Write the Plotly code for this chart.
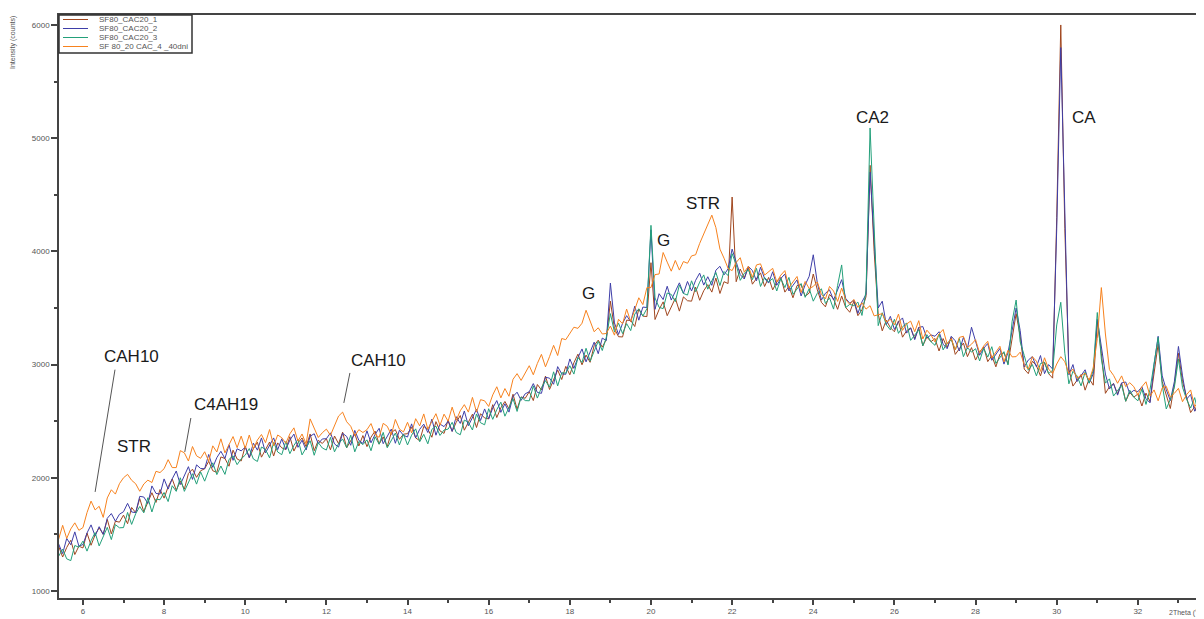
import plotly.graph_objects as go

# ---------------- data ----------------
series_names = ["SF80_CAC20_1", "SF80_CAC20_2", "SF80_CAC20_3", "SF 80_20 CAC_4 _40dni"]

scan_start = 5.4   # 2Theta of first sample
scan_step = 0.1    # 2Theta step between samples

sf80_cac20_1 = [
    1396, 1300, 1384, 1448, 1322, 1396,
    1380, 1512, 1404, 1496, 1558, 1500, 1632, 1504, 1616, 1608,
    1670, 1594, 1738, 1692, 1816, 1700, 1784, 1868, 1782, 1896,
    1820, 1920, 1990, 1890, 1970, 1900, 2038, 2076, 2004, 2062,
    2080, 2146, 2062, 2048, 2184, 2170, 2102, 2244, 2166, 2148,
    2280, 2178, 2256, 2314, 2182, 2250, 2316, 2192, 2308, 2264,
    2250, 2363, 2236, 2309, 2352, 2275, 2387, 2239, 2331, 2303,
    2345, 2247, 2369, 2301, 2403, 2265, 2327, 2389, 2281, 2373,
    2275, 2359, 2413, 2297, 2361, 2275, 2400, 2425, 2340, 2385,
    2390, 2446, 2352, 2328, 2454, 2430, 2358, 2496, 2414, 2392,
    2510, 2410, 2490, 2550, 2420, 2490, 2562, 2444, 2566, 2528,
    2520, 2646, 2532, 2618, 2674, 2610, 2738, 2606, 2714, 2702,
    2760, 2682, 2824, 2776, 2898, 2780, 2866, 2952, 2868, 2984,
    2910, 3016, 3092, 2998, 3084, 3020, 3168, 3216, 3154, 3222,
    3560, 3318, 3246, 3244, 3392, 3390, 3336, 3492, 3428, 3424,
    3900, 3398, 3486, 3554, 3432, 3510, 3586, 3472, 3598, 3564,
    3560, 3684, 3568, 3652, 3706, 3640, 3764, 3628, 3732, 3716,
    4480, 3732, 3844, 3766, 3858, 3710, 3760, 3810, 3690, 3770,
    3660, 3730, 3770, 3640, 3690, 3590, 3698, 3706, 3604, 3632,
    3800, 3660, 3550, 3510, 3620, 3580, 3488, 3606, 3504, 3462,
    3560, 3432, 3484, 3600, 4760, 4000, 3444, 3298, 3392, 3326,
    3290, 3386, 3242, 3298, 3324, 3230, 3328, 3166, 3244, 3202,
    3230, 3120, 3230, 3150, 3240, 3090, 3140, 3190, 3070, 3150,
    3040, 3112, 3154, 3026, 3078, 2980, 3092, 3104, 3006, 3250,
    3450, 3250, 2960, 2920, 3030, 2990, 2900, 3020, 2920, 2880,
    4300, 6000, 4200, 2960, 2810, 2860, 2912, 2774, 2876, 2818,
    3380, 3100, 2746, 2804, 2832, 2740, 2838, 2676, 2754, 2712,
    2740, 2634, 2748, 2672, 2950, 3180, 2850, 2728, 2612, 2820,
    3100, 2850, 2704, 2576, 2628, 2530, 2642,
]

sf80_cac20_2 = [
    1416, 1330, 1464, 1408, 1522, 1396,
    1410, 1512, 1584, 1486, 1568, 1500, 1642, 1684, 1616, 1678,
    1700, 1774, 1698, 1692, 1836, 1830, 1774, 1928, 1862, 1856,
    1990, 1900, 1990, 2060, 1940, 2020, 2098, 1986, 2114, 2082,
    2080, 2206, 2092, 2178, 2234, 2170, 2292, 2154, 2256, 2238,
    2270, 2178, 2306, 2244, 2352, 2220, 2286, 2352, 2248, 2344,
    2250, 2333, 2386, 2269, 2332, 2245, 2367, 2389, 2301, 2343,
    2345, 2397, 2299, 2271, 2393, 2365, 2287, 2419, 2331, 2303,
    2415, 2309, 2383, 2437, 2301, 2365, 2430, 2305, 2420, 2375,
    2360, 2476, 2352, 2428, 2474, 2400, 2518, 2376, 2474, 2452,
    2500, 2410, 2540, 2480, 2590, 2460, 2532, 2604, 2506, 2608,
    2520, 2616, 2682, 2578, 2654, 2580, 2718, 2756, 2684, 2742,
    2760, 2832, 2754, 2746, 2888, 2880, 2826, 2982, 2918, 2914,
    3050, 2966, 3062, 3138, 3024, 3110, 3198, 3096, 3234, 3212,
    3720, 3368, 3266, 3364, 3432, 3380, 3516, 3392, 3508, 3504,
    4190, 3488, 3626, 3574, 3692, 3570, 3646, 3722, 3628, 3734,
    3650, 3744, 3808, 3702, 3776, 3700, 3834, 3868, 3792, 3846,
    4020, 3902, 3794, 3756, 3868, 3830, 3740, 3860, 3760, 3720,
    3820, 3700, 3760, 3800, 3650, 3700, 3748, 3606, 3704, 3780,
    3970, 3720, 3570, 3630, 3660, 3570, 3668, 3750, 3584, 3542,
    3570, 3452, 3554, 3620, 4700, 4050, 3500, 3560, 3352, 3426,
    3310, 3376, 3412, 3278, 3324, 3220, 3328, 3336, 3234, 3262,
    3250, 3290, 3180, 3140, 3250, 3210, 3120, 3240, 3140, 3330,
    3200, 3082, 3144, 3186, 3038, 3090, 3142, 3004, 3106, 3300,
    3500, 3300, 2980, 3040, 3070, 2980, 3080, 2920, 3000, 2960,
    4200, 5800, 4300, 2910, 3000, 2850, 2902, 2954, 2836, 2918,
    3400, 3150, 2916, 2784, 2832, 2730, 2838, 2846, 2744, 2772,
    2760, 2804, 2698, 2662, 3000, 3250, 2900, 2778, 2682, 2850,
    3160, 2900, 2694, 2736, 2588, 2640, 2692,
]

sf80_cac20_3 = [
    1306, 1370, 1284, 1268, 1402, 1386,
    1440, 1352, 1444, 1516, 1398, 1480, 1562, 1454, 1586, 1558,
    1560, 1694, 1588, 1682, 1746, 1690, 1824, 1698, 1812, 1806,
    1870, 1790, 1930, 1880, 2000, 1880, 1958, 2036, 1944, 2052,
    1970, 2066, 2132, 2028, 2104, 2030, 2162, 2194, 2116, 2168,
    2200, 2258, 2166, 2144, 2272, 2250, 2176, 2312, 2228, 2204,
    2320, 2213, 2286, 2339, 2202, 2265, 2327, 2199, 2311, 2263,
    2245, 2357, 2229, 2301, 2343, 2265, 2377, 2229, 2321, 2293,
    2335, 2239, 2363, 2297, 2401, 2265, 2330, 2395, 2290, 2385,
    2290, 2376, 2432, 2318, 2384, 2300, 2428, 2456, 2374, 2422,
    2430, 2490, 2400, 2380, 2510, 2490, 2422, 2564, 2486, 2468,
    2610, 2516, 2602, 2668, 2544, 2620, 2698, 2586, 2714, 2682,
    2680, 2812, 2704, 2796, 2858, 2800, 2936, 2812, 2928, 2924,
    2990, 2916, 3062, 3018, 3144, 3030, 3118, 3206, 3124, 3242,
    3450, 3288, 3366, 3274, 3362, 3300, 3446, 3492, 3428, 3494,
    4230, 3588, 3506, 3494, 3632, 3620, 3556, 3702, 3628, 3614,
    3740, 3644, 3728, 3792, 3666, 3740, 3814, 3698, 3822, 3786,
    3980, 3882, 3744, 3806, 3838, 3750, 3850, 3690, 3770, 3730,
    3760, 3650, 3760, 3680, 3770, 3620, 3668, 3716, 3594, 3672,
    3560, 3630, 3670, 3540, 3590, 3490, 3700, 3880, 3504, 3532,
    3520, 3552, 3434, 3650, 5090, 4200, 3344, 3458, 3352, 3306,
    3400, 3276, 3332, 3368, 3214, 3260, 3308, 3166, 3264, 3202,
    3170, 3270, 3130, 3190, 3220, 3130, 3230, 3070, 3150, 3110,
    3140, 3032, 3144, 3066, 3158, 3010, 3062, 3114, 2996, 3380,
    3570, 3200, 3080, 2950, 3000, 2900, 3010, 3020, 2920, 2950,
    3350, 3550, 3100, 2830, 2940, 2900, 2812, 2934, 2836, 2950,
    3460, 3050, 2836, 2874, 2722, 2770, 2818, 2676, 2774, 2712,
    2680, 2784, 2648, 2780, 3020, 3240, 2820, 2608, 2692, 2800,
    3050, 2800, 2694, 2616, 2708, 2560, 2612,
]

sf80_20_cac_4_40dni = [
    1456, 1580, 1464, 1548, 1602, 1536,
    1560, 1692, 1794, 1716, 1748, 1650, 1822, 1894, 1856, 1948,
    2000, 2030, 1978, 1947, 1881, 1945, 1979, 1958, 2057, 2046,
    2080, 2160, 2090, 2090, 2240, 2220, 2148, 2276, 2194, 2172,
    2230, 2146, 2282, 2228, 2344, 2220, 2292, 2364, 2266, 2368,
    2260, 2378, 2256, 2334, 2382, 2310, 2426, 2282, 2378, 2354,
    2305, 2388, 2441, 2324, 2387, 2300, 2520, 2444, 2356, 2398,
    2430, 2375, 2460, 2545, 2580, 2495, 2455, 2370, 2425, 2400,
    2425, 2479, 2383, 2357, 2481, 2455, 2380, 2515, 2430, 2405,
    2490, 2396, 2522, 2458, 2564, 2430, 2498, 2566, 2464, 2562,
    2500, 2624, 2508, 2592, 2646, 2580, 2710, 2580, 2690, 2680,
    2630, 2732, 2804, 2706, 2788, 2720, 2870, 2920, 2860, 2930,
    2990, 2910, 3010, 3090, 2980, 3070, 3170, 3080, 3230, 3220,
    3275, 3330, 3320, 3365, 3480, 3390, 3290, 3325, 3270, 3275,
    3340, 3260, 3400, 3360, 3490, 3380, 3480, 3590, 3530, 3680,
    3680, 3795, 3800, 3990, 3905, 3825, 3920, 3835, 3910, 3895,
    3960, 3970, 4070, 4150, 4240, 4320, 4210, 4020, 3940, 3850,
    3830, 3902, 3944, 3816, 3868, 3770, 3880, 3890, 3790, 3820,
    3850, 3730, 3790, 3830, 3680, 3730, 3778, 3636, 3734, 3672,
    3690, 3730, 3620, 3580, 3690, 3650, 3558, 3676, 3574, 3532,
    3575, 3505, 3545, 3490, 3520, 3430, 3440, 3450, 3375, 3400,
    3350, 3446, 3302, 3358, 3384, 3290, 3388, 3226, 3304, 3262,
    3200, 3270, 3310, 3180, 3230, 3130, 3240, 3250, 3150, 3180,
    3220, 3102, 3164, 3206, 3058, 3110, 3162, 3024, 3126, 3068,
    3070, 3110, 3000, 2960, 3070, 3030, 2940, 3060, 2960, 2920,
    3005, 3070, 3025, 2920, 2960, 2880, 2902, 2924, 2861, 2970,
    3230, 3680, 3270, 2955, 2905, 2835, 2900, 2805, 2840, 2805,
    2730, 2804, 2848, 2722, 2776, 2680, 2794, 2808, 2712, 2746,
    2790, 2672, 2734, 2776, 2628, 2680, 2732,
]

series_values = [sf80_cac20_1, sf80_cac20_2, sf80_cac20_3, sf80_20_cac_4_40dni]

# phase labels (text) and the 2Theta / intensity they are written at
phase_labels = ["CAH10", "STR", "C4AH19", "CAH10", "G", "G", "STR", "CA2", "CA"]
label_two_theta = [7.2, 7.26, 9.52, 13.28, 18.45, 20.3, 21.28, 25.47, 30.67]
label_intensity = [3067, 2272, 2643, 3032, 3624, 4100, 4419, 5187, 5187]

# ---------------- styling ----------------
colors = ["#A0461E", "#3E3EA8", "#23A07A", "#F7821E"]
FONT = "Liberation Sans, Arial, sans-serif"

# the page body has an 8 px margin; the figure is sized so that it
# ends exactly at the window edge
PAGE = 8
W, H = 1204 - PAGE, 619 - PAGE
ML, MR, MT, MB = 59 - PAGE, 0, 15 - PAGE, 21
PW, PH = W - ML - MR, H - MT - MB


def px(xp):   # screen x pixel -> paper
    return (xp - PAGE - ML) / PW


def py(yp):   # screen y pixel -> paper
    return 1 - (yp - PAGE - MT) / PH


fig = go.Figure()
for name, vals, col in zip(series_names, series_values, colors):
    xs = [round(scan_start + scan_step * i, 2) for i in range(len(vals))]
    fig.add_trace(go.Scatter(x=xs, y=vals, mode="lines", name=name,
                             line=dict(color=col, width=1), showlegend=False))

assert len({len(v) for v in series_values}) == 1, [len(v) for v in series_values]

annotations = []
for t, xx, yy in zip(phase_labels, label_two_theta, label_intensity):
    annotations.append(dict(x=xx, y=yy, xref="x", yref="y", text=t, showarrow=False,
                            xanchor="center", yanchor="middle",
                            font=dict(family=FONT, size=17, color="#1a1a1a")))

# leader lines for three labels (2Theta, intensity)
leaders = [((6.79, 2955), (6.30, 1875)),
           ((8.66, 2528), (8.51, 2228)),
           ((12.58, 2926), (12.43, 2661))]
shapes = []
for (x0, y0), (x1, y1) in leaders:
    shapes.append(dict(type="line", xref="x", yref="y", x0=x0, y0=y0, x1=x1, y1=y1,
                       line=dict(color="#555555", width=1)))

# legend box drawn in the top-left corner
shapes.append(dict(type="rect", xref="paper", yref="paper", x0=px(59), x1=px(192),
                   y0=py(53), y1=py(15), line=dict(color="#333333", width=1.5),
                   fillcolor="white", layer="above"))
row_y = [19.5, 28.5, 37.5, 46.5]
for name, col, ry in zip(series_names, colors, row_y):
    shapes.append(dict(type="line", xref="paper", yref="paper", x0=px(63), x1=px(88),
                       y0=py(ry), y1=py(ry), line=dict(color=col, width=1), layer="above"))
    annotations.append(dict(x=px(97), y=py(ry), xref="paper", yref="paper", text=name,
                            showarrow=False, xanchor="left", yanchor="middle",
                            font=dict(family=FONT, size=8, color="#555555")))

# axis titles
annotations.append(dict(x=px(13), y=py(43), xref="paper", yref="paper",
                        text="Intensity (counts)", showarrow=False, textangle=-90,
                        xanchor="center", yanchor="middle",
                        font=dict(family=FONT, size=7, color="#555555")))
annotations.append(dict(x=px(1202), y=py(613), xref="paper", yref="paper",
                        text="2Theta (°)", showarrow=False,
                        xanchor="right", yanchor="middle",
                        font=dict(family=FONT, size=7, color="#555555")))

fig.update_layout(
    width=W, height=H,
    margin=dict(l=ML, r=MR, t=MT, b=MB, pad=0),
    paper_bgcolor="white", plot_bgcolor="white",
    showlegend=False,
    annotations=annotations, shapes=shapes,
    font=dict(family=FONT, size=8, color="#555555"),
    xaxis=dict(range=[5.41, 33.63], tick0=0, dtick=2, ticks="outside", ticklen=5,
               tickwidth=1.5, tickcolor="#444444", showline=True, linecolor="#444444",
               linewidth=1.5, mirror=True, showgrid=False, zeroline=False,
               tickfont=dict(family=FONT, size=8, color="#555555"),
               minor=dict(ticks="outside", dtick=1, ticklen=3, tickwidth=1.5,
                          tickcolor="#444444", showgrid=False)),
    yaxis=dict(range=[938, 6088], tick0=0, dtick=1000, ticks="outside", ticklen=6,
               tickwidth=1.5, tickcolor="#444444", showline=True, linecolor="#444444",
               linewidth=1.5, showgrid=False, zeroline=False,
               tickfont=dict(family=FONT, size=8, color="#555555"),
               minor=dict(ticks="outside", dtick=500, ticklen=3, tickwidth=1.5,
                          tickcolor="#444444", showgrid=False)),
)

fig.write_html("out.html")
